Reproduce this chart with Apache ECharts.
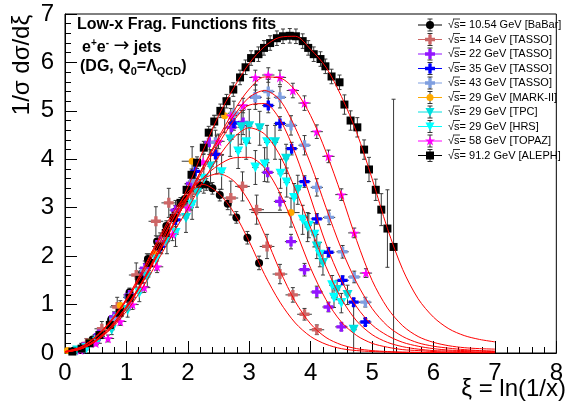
<!DOCTYPE html>
<html><head><meta charset="utf-8">
<script src="https://cdn.jsdelivr.net/npm/echarts@6/dist/echarts.min.js"></script>
<style>html,body{margin:0;padding:0;background:#fff}#c{width:566px;height:402px}</style>
</head><body><div id="c"></div><script>
const FONT = '"Liberation Sans", Arial, Helvetica, sans-serif';

// ---- fit curves (xi grid and values) ----
const curveXi = [0,0.25,0.5,0.75,1,1.25,1.5,1.75,2,2.25,2.5,2.75,3,3.25,3.5,3.75,4,4.25,4.5,4.75,5,5.25,5.5,5.75,6,6.25,6.5,6.75,7];
const fit10 = [0.03,0.12,0.33,0.66,1.1,1.65,2.25,2.82,3.25,3.48,3.3,2.9,2.3,1.62,1.05,0.62,0.34,0.18,0.09,0.05,0.03,0.02,0.01,0.01,0.01,0.01,0.005,0.004,0.003];
const fit14 = [0.03,0.12,0.34,0.68,1.12,1.68,2.3,2.88,3.32,3.6,3.7,3.55,3.12,2.45,1.7,1.06,0.6,0.32,0.17,0.09,0.05,0.03,0.02,0.015,0.01,0.008,0.006,0.005,0.004];
const fit22 = [0.03,0.11,0.32,0.65,1.08,1.6,2.18,2.75,3.25,3.62,3.88,4.03,4.04,3.82,3.3,2.55,1.75,1.1,0.64,0.36,0.2,0.12,0.07,0.05,0.03,0.02,0.02,0.01,0.01];
const fit29 = [0.02,0.08,0.24,0.5,0.86,1.32,1.88,2.45,2.98,3.55,4.05,4.45,4.65,4.52,4.08,3.38,2.58,1.78,1.12,0.66,0.38,0.22,0.13,0.08,0.05,0.04,0.03,0.02,0.02];
const fit35 = [0.02,0.09,0.27,0.56,0.96,1.46,2.02,2.62,3.2,3.78,4.32,4.8,5.12,5.15,4.82,4.12,3.2,2.25,1.5,0.95,0.58,0.36,0.22,0.14,0.09,0.06,0.05,0.04,0.03];
const fit43 = [0.02,0.09,0.27,0.56,0.96,1.46,2.03,2.64,3.25,3.84,4.4,4.9,5.28,5.42,5.22,4.65,3.9,3.0,2.15,1.45,0.92,0.56,0.34,0.21,0.14,0.1,0.07,0.05,0.04];
const fit58 = [0.02,0.08,0.25,0.53,0.92,1.42,2.0,2.6,3.22,3.85,4.45,5.0,5.45,5.7,5.68,5.42,4.9,4.15,3.27,2.32,1.5,0.93,0.56,0.34,0.22,0.15,0.11,0.09,0.08];
const fit91 = [0.02,0.08,0.24,0.52,0.92,1.45,2.08,2.75,3.42,4.18,4.9,5.48,5.98,6.33,6.52,6.54,6.27,5.9,5.3,4.55,3.6,2.57,1.72,1.12,0.74,0.5,0.36,0.28,0.23];

// ---- data points: [xi, value, yErr, xErrLow, xErrHigh] ----
const babar = [[0.15,0.05,0.03,0.05],[0.30,0.14,0.04,0.05],[0.45,0.28,0.05,0.05],[0.60,0.46,0.06,0.05],[0.75,0.68,0.07,0.05],[0.90,0.95,0.08,0.05],[1.05,1.25,0.09,0.05],[1.20,1.58,0.10,0.05],[1.35,1.94,0.10,0.05],[1.50,2.30,0.11,0.05],[1.65,2.62,0.11,0.05],[1.80,2.92,0.12,0.05],[1.95,3.18,0.12,0.05],[2.08,3.35,0.12,0.05],[2.20,3.46,0.12,0.05],[2.30,3.48,0.12,0.05],[2.40,3.40,0.12,0.05],[2.52,3.26,0.12,0.05],[2.65,3.08,0.12,0.05],[2.79,2.80,0.12,0.05],[2.97,2.38,0.13,0.05],[3.16,1.86,0.14,0.05]];
const tasso14 = [[0.35,0.20,0.10,0.12],[0.60,0.50,0.15,0.12],[0.85,0.95,0.2,0.12],[1.16,1.61,0.25,0.12],[1.48,2.72,0.3,0.12],[1.69,3.10,0.3,0.12],[2.05,3.30,0.35,0.12],[2.47,4.10,0.4,0.12],[2.70,3.20,0.35,0.12],[2.89,3.44,0.3,0.12],[3.12,2.96,0.3,0.12],[3.29,2.20,0.25,0.12],[3.50,1.63,0.2,0.12],[3.71,1.20,0.15,0.12],[3.90,0.80,0.12,0.12],[4.10,0.48,0.1,0.12]];
const tasso22 = [[0.30,0.12,0.05,0.1],[0.55,0.38,0.08,0.1],[0.80,0.75,0.1,0.1],[1.05,1.20,0.12,0.1],[1.30,1.75,0.15,0.1],[1.55,2.30,0.18,0.1],[1.80,2.95,0.2,0.1],[2.05,3.50,0.22,0.1],[2.35,4.35,0.25,0.1],[2.71,4.66,0.25,0.1],[2.90,4.76,0.25,0.1],[3.30,3.73,0.2,0.1],[3.50,3.13,0.18,0.1],[3.68,2.30,0.15,0.1],[3.90,1.72,0.13,0.1],[4.10,1.26,0.12,0.1],[4.29,0.95,0.1,0.1],[4.50,0.54,0.08,0.1]];
const tasso35 = [[0.30,0.10,0.04,0.1],[0.55,0.35,0.06,0.1],[0.80,0.70,0.08,0.1],[1.05,1.15,0.1,0.1],[1.30,1.65,0.12,0.1],[1.55,2.20,0.13,0.1],[1.80,2.75,0.14,0.1],[2.12,3.75,0.15,0.1],[2.45,4.10,0.15,0.1],[2.75,4.75,0.15,0.1],[3.10,5.28,0.15,0.1],[3.31,5.11,0.15,0.1],[3.50,4.74,0.14,0.1],[3.69,4.22,0.13,0.1],[3.90,3.54,0.12,0.1],[4.10,2.77,0.11,0.1],[4.29,2.08,0.1,0.1],[4.52,1.50,0.09,0.1],[4.70,1.05,0.08,0.1],[4.89,0.64,0.07,0.1]];
const tasso43 = [[0.30,0.10,0.05,0.1],[0.55,0.34,0.07,0.1],[0.80,0.70,0.1,0.1],[1.05,1.15,0.12,0.1],[1.30,1.70,0.15,0.1],[1.55,2.25,0.18,0.1],[1.80,2.85,0.2,0.1],[2.10,3.55,0.22,0.1],[2.45,4.35,0.25,0.1],[2.75,4.95,0.25,0.1],[3.10,5.28,0.25,0.1],[3.31,5.40,0.25,0.1],[3.50,5.28,0.22,0.1],[3.68,4.70,0.2,0.1],[3.90,4.29,0.2,0.1],[4.10,3.42,0.18,0.1],[4.30,2.80,0.15,0.1],[4.52,2.09,0.13,0.1],[4.71,1.57,0.12,0.1],[4.89,1.05,0.1,0.1]];
const markII = [[0.04,0.05,0.03,0.04],[0.40,0.22,0.06,0.1],[0.90,0.98,0.1,0.15],[1.45,2.05,0.15,0.15],[2.07,3.96,0.3,0.17],[2.60,4.90,0.35,0.2],[3.68,2.90,0.3,0.65,0.14]];
const tpc = [[0.20,0.05,0.03,0.05],[0.52,0.23,0.06,0.05],[0.76,0.48,0.1,0.05],[1.02,0.89,0.15,0.05],[1.34,1.57,0.2,0.05],[1.66,2.30,0.25,0.05],[1.97,2.79,0.3,0.05],[2.15,3.31,0.3,0.05],[2.37,3.85,0.35,0.05],[2.69,4.41,0.35,0.05],[2.87,4.66,0.35,0.05],[3.00,4.68,0.35,0.05],[3.17,4.64,0.35,0.05],[3.42,4.35,0.35,0.05],[3.60,4.01,0.3,0.05],[3.79,3.37,0.3,0.05],[3.95,2.60,0.3,0.05],[4.10,2.20,0.25,0.05],[4.20,1.86,0.25,0.05],[4.43,1.30,0.2,0.05],[4.60,1.20,0.2,0.05],[4.70,0.48,0.6,0.05]];
const hrs = [[0.35,0.10,0.04,0.05],[0.89,0.75,0.12,0.05],[1.21,1.24,0.18,0.05],[1.48,1.93,0.22,0.05],[1.80,2.48,0.28,0.05],[2.07,3.06,0.3,0.05],[2.26,3.60,0.3,0.05],[2.55,3.73,0.35,0.05],[2.82,4.16,0.35,0.05],[2.95,4.35,0.35,0.05],[3.10,3.83,0.35,0.05],[3.25,3.89,0.35,0.05],[3.29,4.35,0.35,0.05],[3.51,3.70,0.3,0.05],[3.61,3.52,0.3,0.05],[3.73,3.20,0.3,0.05],[3.87,2.75,0.3,0.05],[3.97,2.63,0.25,0.05],[4.06,2.44,0.25,0.05],[4.15,2.03,0.25,0.05],[4.35,1.40,0.2,0.05],[4.38,1.14,0.2,0.05],[4.50,1.03,0.2,0.05]];
const topaz = [[0.25,0.06,0.03,0.1],[0.50,0.20,0.05,0.1],[0.70,0.30,0.07,0.1],[0.90,0.65,0.08,0.1],[1.10,1.00,0.1,0.1],[1.29,1.35,0.1,0.1],[1.50,1.78,0.12,0.1],[1.75,2.45,0.13,0.1],[2.00,3.00,0.14,0.1],[2.25,3.95,0.15,0.1],[2.50,4.37,0.15,0.1],[2.70,4.90,0.15,0.1],[2.90,5.11,0.15,0.1],[3.10,5.69,0.15,0.1],[3.31,5.74,0.15,0.1],[3.50,5.69,0.15,0.1],[3.71,5.42,0.15,0.1],[3.90,5.16,0.15,0.1],[4.10,4.57,0.14,0.1],[4.29,4.06,0.13,0.1],[4.50,3.27,0.12,0.1],[4.71,2.48,0.1,0.1],[4.90,1.65,0.09,0.1]];
const aleph = [[0.12,0.03,0.02,0.05],[0.27,0.09,0.03,0.05],[0.40,0.20,0.04,0.05],[0.56,0.37,0.05,0.05],[0.73,0.58,0.06,0.05],[0.89,0.83,0.07,0.05],[1.05,1.14,0.08,0.05],[1.21,1.51,0.09,0.05],[1.37,1.86,0.1,0.05],[1.53,2.20,0.1,0.05],[1.64,2.48,0.1,0.05],[1.77,2.79,0.11,0.05],[1.88,3.10,0.11,0.05],[1.98,3.37,0.12,0.05],[2.06,3.68,0.12,0.05],[2.15,3.93,0.12,0.05],[2.26,4.24,0.13,0.05],[2.34,4.55,0.13,0.05],[2.43,4.78,0.13,0.05],[2.53,5.00,0.14,0.05],[2.63,5.20,0.14,0.05],[2.74,5.44,0.14,0.05],[2.85,5.69,0.15,0.05],[2.94,5.90,0.15,0.05],[3.03,6.09,0.15,0.05],[3.15,6.17,0.15,0.05],[3.24,6.30,0.15,0.05],[3.34,6.40,0.15,0.05],[3.45,6.50,0.15,0.05],[3.55,6.54,0.15,0.05],[3.66,6.55,0.15,0.05],[3.76,6.54,0.15,0.05],[3.87,6.44,0.15,0.05],[3.96,6.30,0.15,0.05],[4.05,6.17,0.15,0.05],[4.16,6.07,0.15,0.05],[4.24,5.92,0.15,0.05],[4.34,5.71,0.15,0.05],[4.47,5.59,0.15,0.05],[4.55,5.13,0.2,0.05],[4.65,4.80,0.2,0.05],[4.76,4.66,0.2,0.05],[4.87,4.20,0.2,0.05],[4.95,3.79,0.25,0.05],[5.06,3.37,0.22,0.05],[5.15,2.96,0.33,0.05],[5.25,2.57,0.8,0.05],[5.35,2.19,3.05,0.05]];

const legendLabels = ['√s= 10.54 GeV [BaBar]','√s= 14 GeV [TASSO]','√s= 22 GeV [TASSO]','√s= 35 GeV [TASSO]','√s= 43 GeV [TASSO]','√s= 29 GeV [MARK-II]','√s= 29 GeV [TPC]','√s= 29 GeV [HRS]','√s= 58 GeV [TOPAZ]','√s= 91.2 GeV [ALEPH]'];
const titleLines = ['Low-x Frag. Functions fits'];

// ---- styling table ----
const CROSS = 'M3,0H6V3H9V6H6V9H3V6H0V3H3Z';
const STAR = 'M50,0L61.8,35.5L99,35.5L69,57.5L80.3,93L50,71L19.7,93L31,57.5L1,35.5L38.2,35.5Z';
const CROSS_PTS = [[3,0],[6,0],[6,3],[9,3],[9,6],[6,6],[6,9],[3,9],[3,6],[0,6],[0,3],[3,3]];
const STAR_PTS = [[50,0],[61.8,35.5],[99,35.5],[69,57.5],[80.3,93],[50,71],[19.7,93],[31,57.5],[1,35.5],[38.2,35.5]];
const sets = [
  {pts: babar,   color:'#000000', mk:'circle', size:8},
  {pts: tasso14, color:'#cc6666', mk:'cross', size:10},
  {pts: tasso22, color:'#9314ff', mk:'cross', size:10},
  {pts: tasso35, color:'#0000ff', mk:'cross', size:10},
  {pts: tasso43, color:'#7f9fe0', mk:'cross', size:10},
  {pts: markII,  color:'#ffaa00', mk:'circle', size:7},
  {pts: tpc,     color:'#00e0e0', mk:'tri', size:10},
  {pts: hrs,     color:'#00ffff', mk:'tri', size:10},
  {pts: topaz,   color:'#ff00ff', mk:'star', size:10},
  {pts: aleph,   color:'#000000', mk:'square', size:8}
];
const fits = [fit10, fit14, fit22, fit29, fit35, fit43, fit58, fit91];

function sym(mk){
  if (mk==='cross') return 'path://'+CROSS;
  if (mk==='star') return 'path://'+STAR;
  if (mk==='tri') return 'triangle';
  if (mk==='square') return 'rect';
  return 'circle';
}

function errRender(params, api){
  const x=api.value(0), y=api.value(1), ey=api.value(2), exl=api.value(3), exh=api.value(4);
  const c=api.coord([x,y]);
  const t=api.coord([x,Math.min(7,y+ey)]);
  const lowV=Math.max(0,y-ey);
  const b=api.coord([x,lowV]);
  const l=api.coord([Math.max(0,x-exl),y]);
  const r=api.coord([x+exh,y]);
  const st={stroke:'#3a3a3a',lineWidth:1};
  const ch=[
    {type:'line',shape:{x1:c[0],y1:t[1],x2:c[0],y2:b[1]},style:st},
    {type:'line',shape:{x1:l[0],y1:c[1],x2:r[0],y2:c[1]},style:st},
    {type:'line',shape:{x1:c[0]-2,y1:t[1],x2:c[0]+2,y2:t[1]},style:st}
  ];
  if (lowV>0) ch.push({type:'line',shape:{x1:c[0]-2,y1:b[1],x2:c[0]+2,y2:b[1]},style:st});
  return {type:'group',children:ch};
}

const series=[];
sets.forEach((s,i)=>{
  const full=s.pts.map(p=>[p[0],p[1],p[2],p[3],p.length>4?p[4]:p[3]]);
  series.push({type:'custom',name:'err'+i,dimensions:['x','y','ey','exl','exh'],encode:{x:0,y:1},data:full,renderItem:errRender,z:2,silent:true});
  series.push({type:'scatter',name:legendLabels[i],data:s.pts.map(p=>[p[0],p[1]]),symbol:sym(s.mk),symbolSize:s.size,symbolRotate:s.mk==='tri'?180:0,itemStyle:{color:s.color,opacity:1},z:3,silent:true});
});
fits.forEach((f,i)=>{
  series.push({type:'line',name:'fit'+i,data:curveXi.map((x,j)=>[x,f[j]]),smooth:0.3,symbol:'none',lineStyle:{color:'#ff0000',width:1},z:4,silent:true});
});

function scalePts(arr, box, cx, cy, size){
  const k=size/box;
  return arr.map(p=>[cx-size/2+p[0]*k, cy-size/2+p[1]*k]);
}

// ---- legend drawn as graphic ----
const graphic=[];
legendLabels.forEach((lab,i)=>{
  const cy=25+i*14.5, cx=430, s=sets[i];
  graphic.push({type:'line',shape:{x1:418,y1:cy,x2:442,y2:cy},style:{stroke:s.color,lineWidth:1}});
  graphic.push({type:'line',shape:{x1:cx,y1:cy-6,x2:cx,y2:cy+6},style:{stroke:'#333',lineWidth:1}});
  graphic.push({type:'line',shape:{x1:cx-2.5,y1:cy-6,x2:cx+2.5,y2:cy-6},style:{stroke:'#333',lineWidth:1}});
  graphic.push({type:'line',shape:{x1:cx-2.5,y1:cy+6,x2:cx+2.5,y2:cy+6},style:{stroke:'#333',lineWidth:1}});
  let m;
  if (s.mk==='circle') m={type:'circle',shape:{cx:cx,cy:cy,r:s.size/2},style:{fill:s.color}};
  else if (s.mk==='square') m={type:'rect',shape:{x:cx-4,y:cy-4,width:8,height:8},style:{fill:s.color}};
  else if (s.mk==='tri') m={type:'polygon',shape:{points:[[cx-4.5,cy-4],[cx+4.5,cy-4],[cx,cy+4.5]]},style:{fill:s.color}};
  else if (s.mk==='cross') m={type:'polygon',shape:{points:scalePts(CROSS_PTS,9,cx,cy,s.size)},style:{fill:s.color}};
  else m={type:'polygon',shape:{points:scalePts(STAR_PTS,99,cx,cy,s.size)},style:{fill:s.color}};
  graphic.push(m);
  graphic.push({type:'text',x:448,y:cy,style:{text:lab,fontSize:11,fontFamily:FONT,fill:'#000',align:'left',verticalAlign:'middle'}});
  graphic.push({type:'line',shape:{x1:453,y1:cy-6,x2:460,y2:cy-6},style:{stroke:'#000',lineWidth:0.8}});
});

graphic.push({type:'text',x:77,y:25,style:{text:titleLines[0],fontSize:16,fontWeight:'bold',fontFamily:FONT,fill:'#000',align:'left',verticalAlign:'middle'}});
graphic.push({type:'text',x:82,y:47,style:{text:'{m|e}{sp|+}{m|e}{sp|-}{m| }{ar|→}{m| jets}',fill:'#000',align:'left',verticalAlign:'middle',
  rich:{m:{fontSize:16,fontWeight:'bold',fontFamily:FONT,verticalAlign:'bottom',lineHeight:18},
        sp:{fontSize:10,fontWeight:'bold',fontFamily:FONT,verticalAlign:'top',lineHeight:12},
        ar:{fontSize:19,fontFamily:'"DejaVu Sans", sans-serif',verticalAlign:'bottom',lineHeight:18}}}});
graphic.push({type:'text',x:80,y:68,style:{text:'{m|(DG, Q}{sb|0}{m|=Λ}{sb|QCD}{m|)}',fill:'#000',align:'left',verticalAlign:'middle',
  rich:{m:{fontSize:16,fontWeight:'bold',fontFamily:FONT,verticalAlign:'top',lineHeight:18},sb:{fontSize:11,fontWeight:'bold',fontFamily:FONT,verticalAlign:'bottom',lineHeight:12}}}});
graphic.push({type:'text',x:22,y:65,rotation:Math.PI/2,style:{text:'1/σ dσ/dξ',fontSize:24,fontFamily:FONT,fill:'#000',align:'center',verticalAlign:'middle'}});
graphic.push({type:'text',x:566,y:389,style:{text:'ξ = ln(1/x)',fontSize:24,fontFamily:FONT,fill:'#000',align:'right',verticalAlign:'middle'}});

const axisCommon={
  axisLine:{show:true,onZero:false,lineStyle:{color:'#000',width:1}},
  axisTick:{show:true,inside:true,length:12,lineStyle:{color:'#000'}},
  minorTick:{show:true,splitNumber:5,length:6,lineStyle:{color:'#000'}},
  splitLine:{show:false},
};
const chart=echarts.init(document.getElementById('c'),null,{renderer:'canvas'});
chart.setOption({
  animation:false,
  backgroundColor:'#fff',
  grid:{left:65,top:14,right:5,bottom:49,show:true,borderColor:'#000',borderWidth:1,backgroundColor:'transparent'},
  xAxis:Object.assign({type:'value',min:0,max:8,interval:1,axisLabel:{fontSize:24,color:'#000',fontFamily:FONT,margin:8}},axisCommon),
  yAxis:Object.assign({type:'value',min:0,max:7,interval:1,axisLabel:{fontSize:24,color:'#000',fontFamily:FONT,margin:11}},axisCommon),
  series:series,
  graphic:graphic
});
</script></body></html>
